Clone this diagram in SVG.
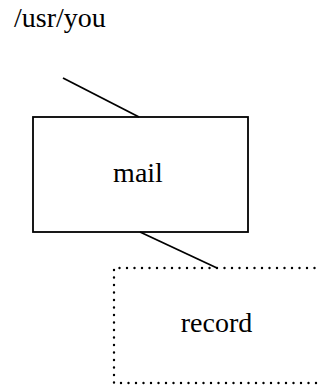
<svg xmlns="http://www.w3.org/2000/svg" width="320" height="385" viewBox="0 0 320 385">
<style>
text{font-family:"Liberation Serif","Times New Roman",serif;font-size:28px;fill:#000}
.box{fill:none;stroke:#000;stroke-width:1.8}
.dot{fill:none;stroke:#000;stroke-width:2.4;stroke-dasharray:0 7.5;stroke-linecap:round}
.edge{stroke:#000;stroke-width:1.8}
</style>
<rect width="320" height="385" fill="#fff"/>
<g id="usr-you"><text x="14" y="27">/usr/you</text></g>
<g id="mail">
<rect class="box" x="33" y="117" width="215" height="115"/>
<text x="138" y="182" text-anchor="middle">mail</text>
</g>
<g id="record">
<path class="dot" d="M322,268 H114 V383 H322"/>
<text x="216.5" y="332" text-anchor="middle">record</text>
</g>
<g id="connectors">
<line class="edge" x1="63" y1="78" x2="139" y2="117"/>
<line class="edge" x1="140" y1="232" x2="217" y2="268"/>
</g>
</svg>
